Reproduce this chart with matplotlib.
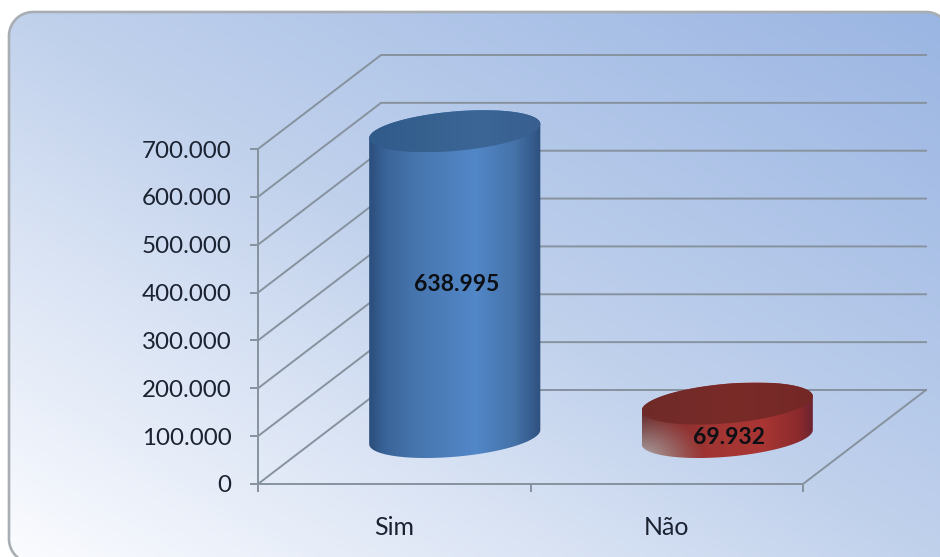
import numpy as np
import matplotlib
matplotlib.use("Agg")
import matplotlib.pyplot as plt
from matplotlib.patches import Polygon
from matplotlib.colors import LinearSegmentedColormap, to_rgb

categories = ["Sim", "Não"]
values = [638995, 69932]
label_fractions = [0.5, 0.0]
y_ticks = [0, 100000, 200000, 300000, 400000, 500000, 600000, 700000]
y_tick_labels = ["0", "100.000", "200.000", "300.000", "400.000", "500.000", "600.000", "700.000"]

W, H = 940, 557
FONT = ["Lato", "DejaVu Sans"]
GRID = "#87929f"
TXT = "#1b2333"

fig = plt.figure(figsize=(W / 100, H / 100), dpi=100, facecolor="white")

# Background panel
bg = fig.add_axes([0, 0, 1, 1], zorder=0)
bg.set_xlim(0, W)
bg.set_ylim(H, 0)
bg.axis("off")
gx, gy = np.meshgrid(np.linspace(0, 1, 300), np.linspace(0, 1, 200))
grad = (gx + gy) / 2
cmap_bg = LinearSegmentedColormap.from_list(
    "bg", [(0, "#fbfcff"), (0.3, "#d9e3f4"), (0.5, "#c0d1ec"), (1, "#9ab5e3")])
im = bg.imshow(grad, extent=(0, W, H, 0), origin="lower", cmap=cmap_bg, vmin=0, vmax=1, aspect="auto")


def rounded_rect(x0, y0, x1, y1, r, n=24):
    a = np.linspace(0, np.pi / 2, n)
    c, s = np.cos(a), np.sin(a)
    xs = np.r_[x1 - r + r * s, x1 - r + r * c, x0 + r - r * s, x0 + r - r * c]
    ys = np.r_[y0 + r - r * c, y1 - r + r * s, y1 - r + r * c, y0 + r - r * s]
    return np.column_stack([xs, ys])


panel = Polygon(rounded_rect(9, 12, 950, 563, 24), closed=True, fc="none", ec="#a9aeb4", lw=1.9)
bg.add_patch(panel)
im.set_clip_path(panel)

# Plot axes: the front plane of the 3D box
L, R, T, B = 258, 803, 149, 484
ax = fig.add_axes([L / W, 1 - B / H, (R - L) / W, (B - T) / H], zorder=1)
ax.patch.set_alpha(0)
ax.set_xlim(-0.5, 1.5)
ax.set_ylim(0, 700000)
DX = 123 / (R - L) * 2      # depth of the box in category units
DY = 94 / (B - T) * 700000  # depth of the box in value units

for s in ("top", "right"):
    ax.spines[s].set_visible(False)
for s in ("left", "bottom"):
    ax.spines[s].set_color(GRID)
    ax.spines[s].set_linewidth(1.4)

ax.set_yticks(y_ticks)
ax.set_yticklabels(y_tick_labels, fontsize=17.4, color=TXT, family=FONT)
ax.tick_params(axis="y", length=6, width=1.4, color=GRID, pad=13)
ax.set_xticks([-0.5, 0.5, 1.5])
ax.set_xticklabels([])
ax.tick_params(axis="x", which="major", length=6, width=1.4, color=GRID)
ax.set_xticks([0, 1], minor=True)
ax.set_xticklabels(categories, minor=True, fontsize=18, color=TXT, family=FONT)
ax.tick_params(axis="x", which="minor", length=0, pad=23)

# Walls and floor
for y in y_ticks:
    ax.plot([-0.5, -0.5 + DX, 1.5 + DX], [y, y + DY, y + DY], color=GRID, lw=1.4, clip_on=False, zorder=1)
ax.plot([1.5, 1.5 + DX], [0, DY], color=GRID, lw=1.4, clip_on=False, zorder=1)


def cylinder(xc, value, side_img, top_colors, z):
    cx, cy = xc + DX / 2 - 1 / (R - L) * 2, DY / 2
    w = 80.5 / (R - L) * 2
    sx, sy = 29 / (R - L) * 2, 21 / (B - T) * 700000
    t = np.linspace(0, 2 * np.pi, 241)
    ex = w * np.cos(t) + sx * np.sin(t)
    ey = sy * np.sin(t)
    a0 = np.arctan2(sx, w)
    tb2 = np.linspace(a0, a0 - np.pi, 120)
    bx2 = w * np.cos(tb2) + sx * np.sin(tb2)
    by2 = sy * np.sin(tb2)
    tt = np.linspace(a0 + np.pi, a0, 120)
    tx = w * np.cos(tt) + sx * np.sin(tt)
    ty = sy * np.sin(tt)
    body = np.column_stack([np.r_[cx + bx2, cx + tx], np.r_[cy + by2, cy + value + ty]])
    hw = np.abs(ex).max()
    x0, x1 = cx - hw, cx + hw
    y0, y1 = cy - sy - 5000, cy + value + sy
    poly = Polygon(body, closed=True, fc="none", ec="none", zorder=z, clip_on=False)
    ax.add_patch(poly)
    img = ax.imshow(side_img, extent=(x0, x1, y0, y1), origin="lower", aspect="auto", zorder=z,
                    interpolation="bilinear")
    img.set_clip_box(fig.bbox)
    img.set_clip_path(poly)
    top = Polygon(np.column_stack([cx + ex, cy + value + ey]), closed=True, fc="none", ec="none", zorder=z + 1,
                  clip_on=False)
    ax.add_patch(top)
    cm = LinearSegmentedColormap.from_list("top", top_colors)
    img2 = ax.imshow(np.linspace(0, 1, 64)[None, :], extent=(x0, x1, cy + value - sy, cy + value + sy),
                     origin="lower", aspect="auto", cmap=cm, zorder=z + 1, interpolation="bilinear")
    img2.set_clip_box(fig.bbox)
    img2.set_clip_path(top)
    return cx, cy


def hgrad(stops, colors, n=200):
    c = np.array([to_rgb(k) for k in colors])
    u = np.linspace(0, 1, n)
    return np.column_stack([np.interp(u, stops, c[:, i]) for i in range(3)])


blue = hgrad([0, 0.1, 0.3, 0.62, 0.85, 1],
             ["#2b4e7c", "#3a659a", "#4877b0", "#5287c8", "#4572a8", "#2e5180"])
blue_img = np.repeat(blue[None, :, :], 4, axis=0)

red = hgrad([0, 0.12, 0.4, 0.7, 0.92, 1],
            ["#66292a", "#7e2d2c", "#a13533", "#a93633", "#8a2a2d", "#6a2230"])
nr = 60
red_img = np.repeat(red[None, :, :], nr, axis=0)
uu, vv = np.meshgrid(np.linspace(0, 1, 200), np.linspace(0, 1, nr))
mix = np.clip(1 - np.hypot(uu / 0.36, vv / 0.62), 0, 1)[..., None] ** 1.1
red_img = red_img * (1 - mix) + np.array([0.70, 0.67, 0.67]) * mix

blue_top = ["#2f5a8a", "#36618f", "#3b6696", "#385f8f"]
red_top = ["#6f2a28", "#792b28", "#742826"]

imgs = [blue_img, red_img]
tops = [blue_top, red_top]
for i, v in enumerate(values):
    cx, cy = cylinder(i, v, imgs[i], tops[i], 3 + 2 * i)
    label = f"{v:,}".replace(",", ".")
    ax.text(cx + 0.006, label_fractions[i] * v + cy, label, ha="center", va="center", fontsize=16.5,
            fontweight="bold", color="#0c0f14", family=FONT, zorder=10, clip_on=False)

ax.set_xlim(-0.5, 1.5)
ax.set_ylim(0, 700000)

fig.savefig("out.png", dpi=100, facecolor="white")
